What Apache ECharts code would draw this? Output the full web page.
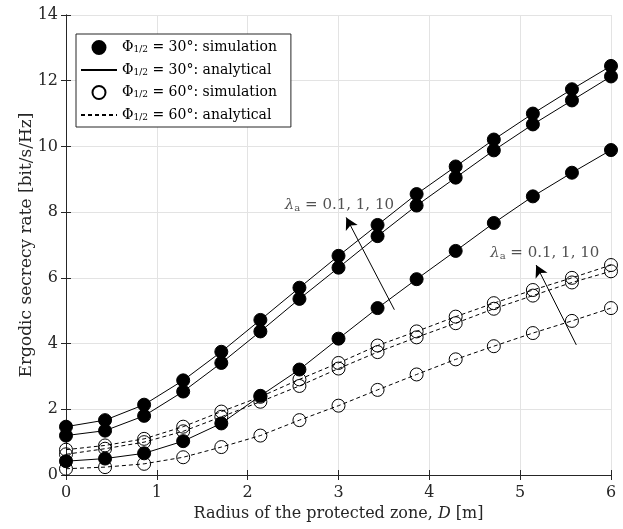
<!DOCTYPE html>
<html>
<head>
<meta charset="utf-8">
<script src="https://cdn.jsdelivr.net/npm/echarts@6/dist/echarts.min.js"></script>
<style>html,body{margin:0;padding:0;background:#fff}#c{width:623px;height:529px}</style>
</head>
<body>
<div id="c"></div>
<script>
// Radius of the protected zone D [m]
var dValues = [0, 0.43, 0.86, 1.29, 1.71, 2.14, 2.57, 3, 3.43, 3.86, 4.29, 4.71, 5.14, 5.57, 6];
// Phi_1/2 = 30 deg, lambda_a = 10, 1, 0.1
var p30_l10 = [1.47, 1.67, 2.14, 2.88, 3.75, 4.72, 5.70, 6.67, 7.61, 8.55, 9.39, 10.21, 11.00, 11.74, 12.45];
var p30_l1  = [1.20, 1.35, 1.80, 2.54, 3.41, 4.37, 5.36, 6.31, 7.27, 8.20, 9.05, 9.88, 10.67, 11.40, 12.13];
var p30_l01 = [0.42, 0.50, 0.66, 1.03, 1.57, 2.41, 3.21, 4.15, 5.08, 5.96, 6.82, 7.67, 8.48, 9.20, 9.89];
// Phi_1/2 = 60 deg, lambda_a = 10, 1, 0.1
var p60_l10 = [0.77, 0.90, 1.10, 1.47, 1.93, 2.38, 2.91, 3.41, 3.94, 4.37, 4.82, 5.23, 5.63, 6.00, 6.39];
var p60_l1  = [0.63, 0.80, 1.00, 1.33, 1.77, 2.23, 2.71, 3.24, 3.74, 4.19, 4.62, 5.06, 5.46, 5.86, 6.20];
var p60_l01 = [0.19, 0.24, 0.34, 0.54, 0.85, 1.20, 1.67, 2.11, 2.59, 3.06, 3.52, 3.92, 4.32, 4.69, 5.08];
// axis ticks
var xTicks = [0, 1, 2, 3, 4, 5, 6];
var yTicks = [0, 2, 4, 6, 8, 10, 12, 14];
// annotations (data coordinates)
var annText1 = [3.01, 8.22];
var annArrow1 = [[3.615, 5.03], [3.085, 7.84]];
var annText2 = [5.27, 6.74];
var annArrow2 = [[5.618, 3.96], [5.176, 6.39]];

var FONT = 'DejaVu Serif';
var INK = '#262626';

function pairs(ys) { return dValues.map(function (d, i) { return [d, ys[i]]; }); }

var legendNames = {
  s30: '{a|Φ}{s|1/2}{a| = 30°: simulation}',
  a30: '{a|Φ}{s|1/2}{a| = 30°: analytical}',
  s60: '{a|Φ}{s|1/2}{a| = 60°: simulation}',
  a60: '{a|Φ}{s|1/2}{a| = 60°: analytical}'
};

var series = [];
[p30_l10, p30_l1, p30_l01].forEach(function (arr) {
  series.push({ name: 'a30', type: 'line', data: pairs(arr), symbol: 'none', z: 2,
    lineStyle: { color: '#000', width: 1, type: 'solid' }, itemStyle: { color: 'rgba(0,0,0,0)', opacity: 0 } });
});
[p60_l10, p60_l1, p60_l01].forEach(function (arr) {
  series.push({ name: 'a60', type: 'line', data: pairs(arr), symbol: 'none', z: 2,
    lineStyle: { color: '#000', width: 1, type: [4, 3] }, itemStyle: { color: 'rgba(0,0,0,0)', opacity: 0 } });
});
[p30_l10, p30_l1, p30_l01].forEach(function (arr) {
  series.push({ name: 's30', type: 'scatter', data: pairs(arr), symbol: 'circle', symbolSize: 13, z: 3,
    itemStyle: { color: '#000', borderColor: '#000', borderWidth: 1, opacity: 1 } });
});
[p60_l10, p60_l1, p60_l01].forEach(function (arr) {
  series.push({ name: 's60', type: 'scatter', data: pairs(arr), symbol: 'circle', symbolSize: 13, z: 3,
    itemStyle: { color: 'rgba(255,255,255,0)', borderColor: '#000', borderWidth: 1, opacity: 1 } });
});

var annLabel = {
  show: true, position: 'inside', color: INK, fontFamily: FONT,
  formatter: '{i|λ}{s|a}{t| = 0.1, 1, 10}',
  rich: {
    i: { fontFamily: FONT, fontStyle: 'italic', fontSize: 15, color: INK },
    s: { fontFamily: FONT, fontSize: 10, color: INK, verticalAlign: 'bottom', padding: [6, 0, 0, 0] },
    t: { fontFamily: FONT, fontSize: 15, color: INK }
  }
};
series.push({
  name: 'annot', type: 'scatter', symbolSize: 0, z: 5, silent: true,
  data: [annText1, annText2], label: annLabel,
  markLine: {
    silent: true, symbol: ['none', 'arrow'], symbolSize: [10, 12],
    lineStyle: { color: '#000', width: 1, type: 'solid' }, label: { show: false },
    data: [
      [{ coord: annArrow1[0] }, { coord: annArrow1[1] }],
      [{ coord: annArrow2[0] }, { coord: annArrow2[1] }]
    ]
  }
});

var chart = echarts.init(document.getElementById('c'));
chart.setOption({
  animation: false,
  backgroundColor: '#fff',
  grid: { left: 66, right: 12, top: 15, bottom: 54, containLabel: false },
  legend: {
    data: [
      { name: 's30' },
      { name: 'a30', itemStyle: { color: 'rgba(0,0,0,0)', borderWidth: 0, opacity: 0 } },
      { name: 's60' },
      { name: 'a60', itemStyle: { color: 'rgba(0,0,0,0)', borderWidth: 0, opacity: 0 } }
    ],
    orient: 'vertical', left: 76, top: 34,
    backgroundColor: '#fff', borderColor: INK, borderWidth: 1, borderRadius: 0,
    padding: [6, 14, 5, 4], itemWidth: 36, itemHeight: 13, itemGap: 8,
    selectedMode: false,
    formatter: function (n) { return legendNames[n]; },
    textStyle: {
      fontFamily: FONT, fontSize: 14, color: '#000',
      rich: {
        a: { fontFamily: FONT, fontSize: 14, color: '#000' },
        s: { fontFamily: FONT, fontSize: 9, color: '#000', verticalAlign: 'bottom', padding: [5, 0, 0, 0] }
      }
    }
  },
  xAxis: [{
    type: 'value', min: xTicks[0], max: xTicks[xTicks.length - 1], interval: 1,
    name: '{t|Radius of the protected zone, }{i|D}{t| [m]}', nameLocation: 'middle', nameGap: 30,
    nameTextStyle: { rich: {
      t: { fontFamily: FONT, fontSize: 16, color: INK },
      i: { fontFamily: FONT, fontSize: 16, color: INK, fontStyle: 'italic' } } },
    axisLine: { show: true, lineStyle: { color: INK, width: 1 } },
    axisTick: { show: true, inside: true, length: 5, lineStyle: { color: INK } },
    axisLabel: { margin: 10, fontFamily: FONT, fontSize: 16, color: INK },
    splitLine: { show: true, lineStyle: { color: '#e3e3e3', width: 1 } }
  }, {
    type: 'value', position: 'top', min: xTicks[0], max: xTicks[xTicks.length - 1], interval: 1,
    axisLine: { show: true, lineStyle: { color: INK, width: 1 } },
    axisTick: { show: true, inside: true, length: 5, lineStyle: { color: INK } },
    axisLabel: { show: false }, splitLine: { show: false }
  }],
  yAxis: [{
    type: 'value', min: yTicks[0], max: yTicks[yTicks.length - 1], interval: 2,
    name: 'Ergodic secrecy rate [bit/s/Hz]', nameLocation: 'middle', nameGap: 31, nameMoveOverlap: false,
    nameTextStyle: { fontFamily: FONT, fontSize: 17, color: INK },
    axisLine: { show: true, lineStyle: { color: INK, width: 1 } },
    axisTick: { show: true, inside: true, length: 5, lineStyle: { color: INK } },
    axisLabel: { margin: 8, fontFamily: FONT, fontSize: 16, color: INK },
    splitLine: { show: true, lineStyle: { color: '#e3e3e3', width: 1 } }
  }, {
    type: 'value', position: 'right', min: yTicks[0], max: yTicks[yTicks.length - 1], interval: 2,
    axisLine: { show: true, lineStyle: { color: INK, width: 1 } },
    axisTick: { show: true, inside: true, length: 5, lineStyle: { color: INK } },
    axisLabel: { show: false }, splitLine: { show: false }
  }],
  series: series
});
</script>
</body>
</html>
